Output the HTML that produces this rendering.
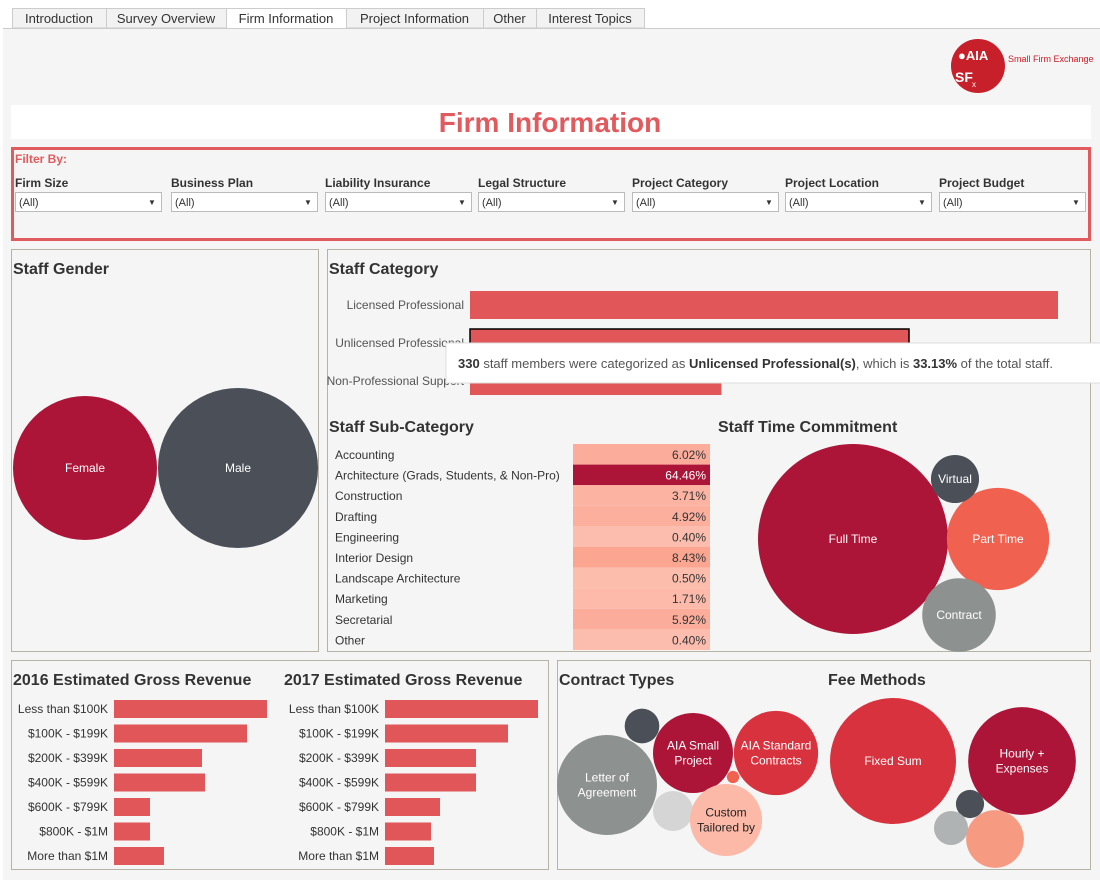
<!DOCTYPE html>
<html><head><meta charset="utf-8"><style>
body{margin:0;background:#fff;font-family:"Liberation Sans",sans-serif;}
svg text{font-family:"Liberation Sans",sans-serif;}
</style></head><body>
<svg id="dash" width="1100" height="880" viewBox="0 0 1100 880" xmlns="http://www.w3.org/2000/svg">
<rect x="0" y="0" width="1100" height="880" fill="#ffffff"/>
<rect x="3" y="28" width="1097" height="852" fill="#f5f5f5"/>
<line x1="3" y1="28.5" x2="1100" y2="28.5" stroke="#cccccc"/>
<g id="tabs" font-size="13" fill="#333"></g>
<g>
<circle cx="978" cy="66" r="27" fill="#c8202a"/>
<text x="958" y="60" font-size="13" fill="#fff" font-family="Liberation Serif" font-weight="bold">●AIA</text>
<text x="955" y="82" font-size="14" fill="#fff" font-weight="bold">SF</text><text x="972" y="87" font-size="8" fill="#fff">x</text>
<text x="1008" y="62" font-size="9" fill="#c8202a">Small Firm Exchange</text>
</g>
<rect x="11" y="105" width="1080" height="34" fill="#fff"/>
<text x="550" y="132" text-anchor="middle" font-size="28" font-weight="bold" fill="#e05a5e">Firm Information</text>
<rect x="12.5" y="148.5" width="1077" height="91" fill="none" stroke="#e05a5e" stroke-width="3"/>
<text x="15" y="163" font-size="12" font-weight="bold" fill="#e05a5e">Filter By:</text>
<g id="filters"></g>
<!-- panels -->
<rect x="11.5" y="249.5" width="307" height="402" fill="none" stroke="#b5b2a6"/>
<rect x="327.5" y="249.5" width="763" height="402" fill="none" stroke="#b5b2a6"/>
<rect x="11.5" y="660.5" width="537" height="209" fill="none" stroke="#b5b2a6"/>
<rect x="557.5" y="660.5" width="533" height="209" fill="none" stroke="#b5b2a6"/>
<g font-size="16" font-weight="bold" fill="#333">
<text x="13" y="274">Staff Gender</text>
<text x="329" y="274">Staff Category</text>
<text x="329" y="432">Staff Sub-Category</text>
<text x="718" y="432">Staff Time Commitment</text>
<text x="13" y="685">2016 Estimated Gross Revenue</text>
<text x="284" y="685">2017 Estimated Gross Revenue</text>
<text x="559" y="685">Contract Types</text>
<text x="828" y="685">Fee Methods</text>
</g>
<g id="charts"></g>
<g id="tooltip">
<rect x="446" y="343" width="660" height="40" fill="#fff" stroke="#ddd"/>
<text x="458" y="368" font-size="13" fill="#555"><tspan font-weight="bold" fill="#333">330</tspan> staff members were categorized as <tspan font-weight="bold" fill="#333">Unlicensed Professional(s)</tspan>, which is <tspan font-weight="bold" fill="#333">33.13%</tspan> of the total staff.</text>
</g>
</svg>
<script>
const NS="http://www.w3.org/2000/svg";
function mk(tag,attrs,parent,txt){const e=document.createElementNS(NS,tag);for(const k in attrs)e.setAttribute(k,attrs[k]);if(txt!==undefined)e.textContent=txt;parent.appendChild(e);return e;}

const tabNames=["Introduction","Survey Overview","Firm Information","Project Information","Other","Interest Topics"];
const filterNames=["Firm Size","Business Plan","Liability Insurance","Legal Structure","Project Category","Project Location","Project Budget"];
const catLabels=["Licensed Professional","Unlicensed Professional","Non-Professional Support"];
const catValues=[442,330,189];
const subLabels=["Accounting","Architecture (Grads, Students, & Non-Pro)","Construction","Drafting","Engineering","Interior Design","Landscape Architecture","Marketing","Secretarial","Other"];
const subValues=[6.02,64.46,3.71,4.92,0.40,8.43,0.50,1.71,5.92,0.40];
const revLabels=["Less than $100K","$100K - $199K","$200K - $399K","$400K - $599K","$600K - $799K","$800K - $1M","More than $1M"];
const rev2016=[153,133,88,91,36,36,50];
const rev2017=[153,123,91,91,55,46,49];
const genderLabels=["Female","Male"];
const genderValues=[81,100];
const timeLabels=["Full Time","Part Time","Virtual","Contract"];
const timeValues=[100,29,6.4,15];
const contractLabels=["Letter of|Agreement","","AIA Small|Project","AIA Standard|Contracts","","","Custom|Tailored by"];
const contractValues=[100,12,64,71,1.5,16,52];
const feeLabels=["Fixed Sum","Hourly +|Expenses","","",""];
const feeValues=[100,73,5,7.3,21];

const tabs=document.getElementById('tabs');
let tx=12;const tw=[94,120,120,137,53,108];
tabNames.forEach((n,i)=>{
 const g=mk('g',{},tabs);
 
 
 mk('rect',{x:tx+0.5,y:8.5,width:tw[i],height:i==2?20:19.5,fill:i==2?'#fff':'#f2f2f2',stroke:'#cccccc'},g);
 mk('text',{x:tx+tw[i]/2,y:23,'text-anchor':'middle','font-size':13,fill:'#333'},g,n);
 tx+=tw[i];
});

const filters=document.getElementById('filters');
const fx=[15,171,325,478,632,785,939];
filterNames.forEach((n,i)=>{
 const g=mk('g',{},filters);
 
 
 mk('text',{x:fx[i],y:187,'font-size':12,'font-weight':'bold',fill:'#333'},g,n);
 mk('rect',{x:fx[i]+0.5,y:192.5,width:146,height:19,fill:'#fff',stroke:'#bbb'},g);
 mk('text',{x:fx[i]+4,y:206,'font-size':11,fill:'#333'},g,'(All)');
 mk('text',{x:fx[i]+133,y:205,'font-size':8,fill:'#333'},g,'▼');
});

const ch=document.getElementById('charts');
function bubble(cx,cy,r,fill,label,fc,fs,name){
 const c=mk('circle',{cx,cy,r,fill},ch);
 
 
 if(label){const lines=label.split('|');lines.forEach((l,j)=>{mk('text',{x:cx,y:cy+4+(j-(lines.length-1)/2)*15,'text-anchor':'middle','font-size':fs,fill:fc},ch,l);});}
}
// gender
const gK=80/Math.sqrt(100);
const gPos=[[85,468],[238,468]];const gCol=['#ad1538','#4a4f58'];
genderValues.forEach((v,i)=>bubble(gPos[i][0],gPos[i][1],gK*Math.sqrt(v),gCol[i],genderLabels[i],'#fff',12,'gender-bubble-'+genderLabels[i].toLowerCase()));

// staff category bars
const cX0=470,cScale=588/442;
catLabels.forEach((l,i)=>{
 const y=305+i*38;
 const t=mk('text',{x:464,y:y+4,'text-anchor':'end','font-size':12,fill:'#555'},ch,l);
 
 
 const r=mk('rect',{x:cX0,y:y-14,width:catValues[i]*cScale,height:28,fill:'#e05659',stroke:i==1?'#000':'none','stroke-width':1.5},ch);
 
 
});

// sub-category heatmap
function heat(v){const lo=[253,190,175],mid=[252,160,140],hi=[173,21,56];
 if(v>20)return `rgb(${hi})`;const t=Math.min(v/10,1);return `rgb(${lo.map((c,k)=>Math.round(c+(mid[k]-c)*t))})`;}
subLabels.forEach((l,i)=>{
 const y=444+i*20.6;
 mk('text',{x:335,y:y+15,'font-size':12,fill:'#333'},ch,l);
 const r=mk('rect',{x:573,y:y,width:137,height:20.6,fill:heat(subValues[i])},ch);
 
 
 mk('text',{x:706,y:y+15,'text-anchor':'end','font-size':12,fill:subValues[i]>20?'#fff':'#333'},ch,subValues[i].toFixed(2)+'%');
});

// time commitment
const tK=95/Math.sqrt(100);
const tPos=[[853,539],[998,539],[955,479],[959,615]];const tCol=['#ad1538','#f0614f','#4a4f58','#8d9291'];
timeValues.forEach((v,i)=>bubble(tPos[i][0],tPos[i][1],tK*Math.sqrt(v),tCol[i],timeLabels[i],'#fff',12,'time-bubble'));

// revenue bars
function rev(x0,labelX,vals,scale,nm){
 revLabels.forEach((l,i)=>{
  const y=709+i*24.5;
  mk('text',{x:labelX,y:y+4,'text-anchor':'end','font-size':12,fill:'#333'},ch,l);
  const r=mk('rect',{x:x0,y:y-9,width:vals[i]*scale,height:18,fill:'#e05659'},ch);
  
  
 });
}
rev(114,108,rev2016,1,'revenue-2016-bar');
rev(385,379,rev2017,1,'revenue-2017-bar');

// contract types
const ctK=50/Math.sqrt(100);
const ctPos=[[607,785],[642,726],[693,753],[776,753],[733,777],[673,811],[726,820]];
const ctCol=['#8d9291','#4a4f58','#ad1538','#d9323f','#f0614f','#d5d5d5','#fdb9a8'];
contractValues.forEach((v,i)=>bubble(ctPos[i][0],ctPos[i][1],ctK*Math.sqrt(v),ctCol[i],contractLabels[i],i==6?'#222':'#fff',12,'contract-bubble'));
// fee methods
const fK=63/Math.sqrt(100);
const fPos=[[893,761],[1022,761],[970,804],[951,828],[995,839]];
const fCol=['#d9323f','#ad1538','#4a4f58','#b0b3b3','#f79a82'];
feeValues.forEach((v,i)=>bubble(fPos[i][0],fPos[i][1],fK*Math.sqrt(v),fCol[i],feeLabels[i],'#fff',12,'fee-bubble'));
</script>
</body></html>
